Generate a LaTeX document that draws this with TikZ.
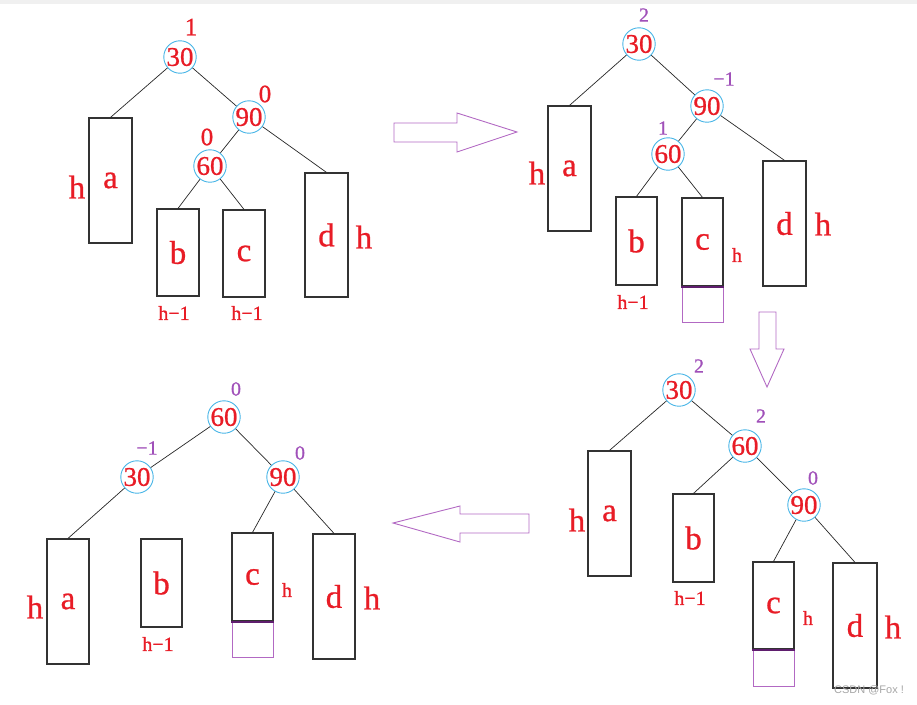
\documentclass[tikz,border=0pt]{standalone}
\usepackage{fontspec}
\setmainfont[FakeBold=0.8,AutoFakeBold=0.8]{Liberation Serif}
\newfontfamily\wmfont{Liberation Sans}
\definecolor{redc}{RGB}{232,28,38}
\definecolor{cyanc}{RGB}{70,180,230}
\definecolor{purc}{RGB}{160,80,185}
\definecolor{arrc}{RGB}{178,105,195}
\definecolor{darkpur}{RGB}{95,30,110}
\tikzset{
  tn/.style={circle, draw=cyanc, line width=0.9pt, minimum size=30pt, inner sep=0pt,
    text=redc, font=\fontsize{27}{27}\selectfont\bfseries},
  sub/.style={rectangle, draw=black!80, line width=1.2pt, inner sep=0pt, text=redc,
    font=\fontsize{33}{33}\selectfont\bfseries},
  ext/.style={rectangle, draw=arrc, line width=1pt, inner sep=0pt},
  edge/.style={draw=black!85, line width=0.7pt},
  bigh/.style={text=redc, inner sep=0pt, font=\fontsize{33}{33}\selectfont\bfseries},
  smallh/.style={text=redc, inner sep=0pt, font=\fontsize{20}{20}\selectfont\bfseries},
  hm/.style={text=redc, inner sep=0pt, font=\fontsize{20}{20}\selectfont\bfseries},
  bfr/.style={text=redc, inner sep=0pt, font=\fontsize{25}{25}\selectfont\bfseries},
  bfp/.style={text=purc, inner sep=0pt, font=\fontsize{20}{20}\selectfont\bfseries},
  bigarrow/.style={draw=arrc, line width=0.9pt, line join=miter},
  seam/.style={draw=darkpur, line width=1.8pt}
}
\begin{document}
\begin{tikzpicture}[x=1pt,y=-1pt]
\useasboundingbox (0,0) rectangle (917,704);
\fill[black!6] (0,0) rectangle (917,4);

% ---------- Panel 1 (top left) ----------
\node[tn] (p1n30) at (180,57) {30};
\node[tn] (p1n90) at (249,117) {90};
\node[tn] (p1n60) at (210,166) {60};
\node[sub, minimum width=43pt, minimum height=125pt] (p1a) at (110.5,180.5) {a};
\node[sub, minimum width=42pt, minimum height=87pt] (p1b) at (178,252.5) {b};
\node[sub, minimum width=42pt, minimum height=87pt] (p1c) at (244,253.5) {c};
\node[sub, minimum width=43pt, minimum height=124pt] (p1d) at (326.5,235) {d};
\draw[edge] (p1n30) -- (p1a.north);
\draw[edge] (p1n30) -- (p1n90);
\draw[edge] (p1n90) -- (p1n60);
\draw[edge] (p1n90) -- (p1d.north);
\draw[edge] (p1n60) -- (p1b.north);
\draw[edge] (p1n60) -- (p1c.north);
\node[bfr] (p1l1) at (191,27) {1};
\node[bfr] (p1l2) at (265,94) {0};
\node[bfr] (p1l3) at (207,137) {0};
\node[bigh] (p1h1) at (77,187) {h};
\node[bigh] (p1h2) at (364,237) {h};
\node[hm] (p1h3) at (174,313) {h−1};
\node[hm] (p1h4) at (247,313) {h−1};

% ---------- Panel 2 (top right) ----------
\node[tn] (p2n30) at (639,44) {30};
\node[tn] (p2n90) at (707,106) {90};
\node[tn] (p2n60) at (668,154) {60};
\node[sub, minimum width=43pt, minimum height=125pt] (p2a) at (569.5,168.5) {a};
\node[sub, minimum width=41pt, minimum height=88pt] (p2b) at (636.5,241) {b};
\node[ext, minimum width=41pt, minimum height=36pt] (p2x) at (702.5,304) {};
\node[sub, minimum width=41pt, minimum height=88pt] (p2c) at (702.5,242) {c};
\draw[seam] (p2c.south west) -- (p2c.south east);
\node[sub, minimum width=43pt, minimum height=125pt] (p2d) at (784.5,223.5) {d};
\draw[edge] (p2n30) -- (p2a.north);
\draw[edge] (p2n30) -- (p2n90);
\draw[edge] (p2n90) -- (p2n60);
\draw[edge] (p2n90) -- (p2d.north);
\draw[edge] (p2n60) -- (p2b.north);
\draw[edge] (p2n60) -- (p2c.north);
\node[bfp] (p2l1) at (644,15) {2};
\node[bfp] (p2l2) at (724,79) {−1};
\node[bfp] (p2l3) at (663,128) {1};
\node[bigh] (p2h1) at (537,173) {h};
\node[bigh] (p2h2) at (823,224) {h};
\node[smallh] (p2h3) at (737,255) {h};
\node[hm] (p2h4) at (633,302) {h−1};

% ---------- Panel 4 (bottom right) ----------
\node[tn] (p4n30) at (679,390) {30};
\node[tn] (p4n60) at (745,446) {60};
\node[tn] (p4n90) at (804,505) {90};
\node[sub, minimum width=43pt, minimum height=125pt] (p4a) at (609.5,513.5) {a};
\node[sub, minimum width=41pt, minimum height=88pt] (p4b) at (693.5,538) {b};
\node[ext, minimum width=41pt, minimum height=37pt] (p4x) at (773.5,667.5) {};
\node[sub, minimum width=41pt, minimum height=87pt] (p4c) at (773.5,605.5) {c};
\draw[seam] (p4c.south west) -- (p4c.south east);
\node[sub, minimum width=44pt, minimum height=125pt] (p4d) at (855,625.5) {d};
\draw[edge] (p4n30) -- (p4a.north);
\draw[edge] (p4n30) -- (p4n60);
\draw[edge] (p4n60) -- (p4b.north);
\draw[edge] (p4n60) -- (p4n90);
\draw[edge] (p4n90) -- (p4c.north);
\draw[edge] (p4n90) -- (p4d.north);
\node[bfp] (p4l1) at (699,366) {2};
\node[bfp] (p4l2) at (761,416) {2};
\node[bfp] (p4l3) at (813,478) {0};
\node[bigh] (p4h1) at (577,520) {h};
\node[bigh] (p4h2) at (893,627) {h};
\node[smallh] (p4h3) at (808,618) {h};
\node[hm] (p4h4) at (690,598) {h−1};

% ---------- Panel 3 (bottom left) ----------
\node[tn] (p3n60) at (224,417) {60};
\node[tn] (p3n30) at (137,477) {30};
\node[tn] (p3n90) at (283,477) {90};
\node[sub, minimum width=42pt, minimum height=125pt] (p3a) at (68,601.5) {a};
\node[sub, minimum width=41pt, minimum height=88pt] (p3b) at (161.5,583) {b};
\node[ext, minimum width=41pt, minimum height=36pt] (p3x) at (252.5,639) {};
\node[sub, minimum width=41pt, minimum height=88pt] (p3c) at (252.5,577) {c};
\draw[seam] (p3c.south west) -- (p3c.south east);
\node[sub, minimum width=42pt, minimum height=125pt] (p3d) at (334,596.5) {d};
\draw[edge] (p3n60) -- (p3n30);
\draw[edge] (p3n60) -- (p3n90);
\draw[edge] (p3n30) -- (p3a.north);
\draw[edge] (p3n90) -- (p3c.north);
\draw[edge] (p3n90) -- (p3d.north);
\node[bfp] (p3l1) at (236,389) {0};
\node[bfp] (p3l2) at (147,448) {−1};
\node[bfp] (p3l3) at (300,453) {0};
\node[bigh] (p3h1) at (35,607) {h};
\node[bigh] (p3h2) at (372,598) {h};
\node[smallh] (p3h3) at (287,590) {h};
\node[hm] (p3h4) at (158,644) {h−1};

% ---------- block arrows ----------
\draw[bigarrow] (394,123) -- (457,123) -- (457,113) -- (517,132) -- (457,152) -- (457,142) -- (394,142) -- cycle;
\draw[bigarrow] (759,312) -- (776,312) -- (776,349) -- (784,349) -- (767,387) -- (750,349) -- (759,349) -- cycle;
\draw[bigarrow] (529,514) -- (460,514) -- (460,506) -- (393,523) -- (460,542) -- (460,533) -- (529,533) -- cycle;

% watermark
\node[text=black!35, inner sep=0pt, font=\wmfont\fontsize{11}{11}\selectfont] (wm) at (869,690) {CSDN @Fox !};
\end{tikzpicture}
\end{document}
